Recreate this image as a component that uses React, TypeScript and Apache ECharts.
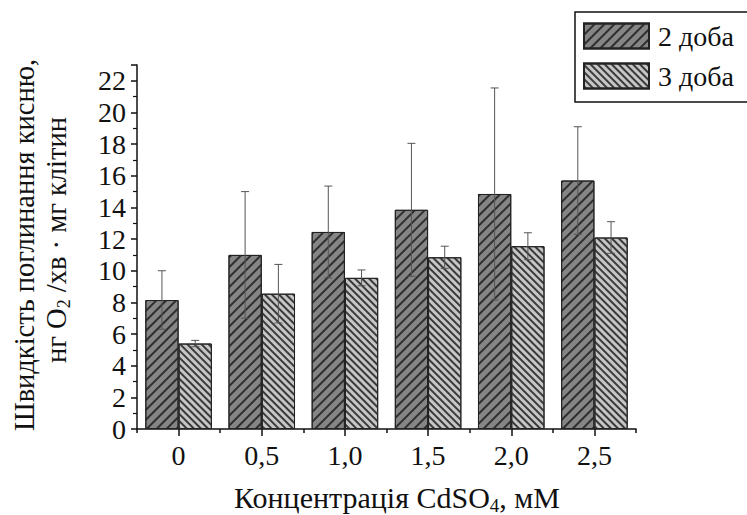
import React, { useEffect, useRef } from "react";
import * as echarts from "echarts";

const categories = ["0", "0,5", "1,0", "1,5", "2,0", "2,5"];
const day2 = [8.15, 11.0, 12.45, 13.85, 14.85, 15.7];
const day2Err = [1.85, 4.0, 2.9, 4.2, 6.7, 3.4];
const day3 = [5.4, 8.55, 9.55, 10.85, 11.55, 12.1];
const day3Err = [0.2, 1.85, 0.5, 0.7, 0.85, 1.0];
const seriesNames = ["2 доба", "3 доба"];
const yTickLabels = [0, 2, 4, 6, 8, 10, 12, 14, 16, 18, 20, 22];

const FONT = "Liberation Serif";

function errData(vals: number[], errs: number[]) {
  return vals.map((v, i) => [i, v - errs[i], v + errs[i]]);
}

function makeErrSeries(name: string, vals: number[], errs: number[], offset: number) {
  return {
    type: "custom",
    name: name + " err",
    z: 10,
    silent: true,
    data: errData(vals, errs),
    encode: { x: 0, y: [1, 2] },
    renderItem: (params: any, api: any) => {
      const i = api.value(0);
      const lo = api.coord([i, api.value(1)]);
      const hi = api.coord([i, api.value(2)]);
      const band = api.size([1, 0])[0];
      const x = lo[0] + offset * band;
      const half = 4;
      const style = { stroke: "#555", lineWidth: 1 };
      return {
        type: "group",
        children: [
          { type: "line", shape: { x1: x, y1: hi[1], x2: x, y2: lo[1] }, style },
          { type: "line", shape: { x1: x - half, y1: hi[1], x2: x + half, y2: hi[1] }, style },
          { type: "line", shape: { x1: x - half, y1: lo[1], x2: x + half, y2: lo[1] }, style },
        ],
      };
    },
  };
}

export default function App() {
  const ref = useRef<HTMLDivElement>(null);
  useEffect(() => {
    if (!ref.current) return;
    const chart = echarts.init(ref.current, null, { renderer: "svg" });
    const axisText = { fontFamily: FONT, fontSize: 28, color: "#111" };
    chart.setOption({
      animation: false,
      backgroundColor: "#fff",
      textStyle: { fontFamily: FONT },
      grid: { left: 137, right: 111, top: 65, bottom: 86 },
      legend: {
        orient: "vertical",
        left: 575,
        top: 12,
        padding: [10, 14, 12, 8],
        itemWidth: 65,
        itemHeight: 25,
        itemGap: 12,
        icon: "rect",
        borderColor: "#111",
        borderWidth: 1.5,
        data: seriesNames,
        textStyle: { fontFamily: FONT, fontSize: 28, color: "#111", padding: [0, 0, 0, 4] },
      },
      xAxis: [
        {
          type: "category",
          data: categories,
          position: "bottom",
          axisLine: { lineStyle: { color: "#111", width: 1.5 } },
          axisTick: { show: true, length: 4, inside: false, lineStyle: { color: "#111", width: 1.5 } },
          axisLabel: { ...axisText, margin: 12 },
        },
        {
          type: "category",
          data: categories,
          position: "bottom",
          axisLine: { show: false },
          axisTick: { show: true, alignWithLabel: true, length: 7, lineStyle: { color: "#111", width: 1.5 } },
          axisLabel: { show: false },
        },
      ],
      yAxis: {
        type: "value",
        min: 0,
        max: 23,
        interval: 2,
        axisLine: { show: true, lineStyle: { color: "#111", width: 1.5 } },
        axisTick: { show: true, length: 6, lineStyle: { color: "#111", width: 1.5 } },
        minorTick: { show: true, splitNumber: 2, length: 4, lineStyle: { color: "#111", width: 1.2 } },
        splitLine: { show: false },
        axisLabel: {
          ...axisText,
          margin: 11,
          showMaxLabel: false,
          formatter: (v: number) => (yTickLabels.includes(v) ? String(v) : ""),
        },
      },
      series: [
        {
          type: "bar",
          name: seriesNames[0],
          data: day2,
          barGap: "0%",
          barCategoryGap: "20%",
          itemStyle: {
            color: "#858585",
            borderColor: "#222",
            borderWidth: 1,
            decal: {
              symbol: "rect",
              symbolSize: 1,
              color: "#2e2e2e",
              dashArrayX: [1, 0],
              dashArrayY: [1.3, 4.5],
              rotation: -Math.PI / 4,
            },
          },
        },
        {
          type: "bar",
          name: seriesNames[1],
          data: day3,
          barGap: "0%",
          barCategoryGap: "20%",
          itemStyle: {
            color: "#c6c6c6",
            borderColor: "#222",
            borderWidth: 1,
            decal: {
              symbol: "rect",
              symbolSize: 1,
              color: "#3a3a3a",
              dashArrayX: [1, 0],
              dashArrayY: [1.1, 2.8],
              rotation: Math.PI / 4,
            },
          },
        },
        makeErrSeries(seriesNames[0], day2, day2Err, -0.2),
        makeErrSeries(seriesNames[1], day3, day3Err, 0.2),
      ],
      graphic: [
        {
          type: "text",
          x: 24,
          y: 245,
          rotation: Math.PI / 2,
          style: {
            text: "Швидкість поглинання кисню,",
            fontFamily: FONT,
            fontSize: 28.5,
            fill: "#111",
            align: "center",
            verticalAlign: "middle",
          },
        },
        {
          type: "text",
          x: 56,
          y: 240,
          rotation: Math.PI / 2,
          style: {
            text: "нг O{sub|2} /хв · мг клітин",
            fontFamily: FONT,
            fontSize: 28.5,
            lineHeight: 34,
            fill: "#111",
            align: "center",
            verticalAlign: "middle",
            rich: {
              sub: { fontFamily: FONT, fontSize: 18, lineHeight: 18, verticalAlign: "bottom", fill: "#111" },
            },
          },
        },
        {
          type: "text",
          x: 397,
          y: 497,
          style: {
            text: "Концентрація CdSO{sub|4}, мМ",
            fontFamily: FONT,
            fontSize: 30,
            lineHeight: 36,
            fill: "#111",
            align: "center",
            verticalAlign: "middle",
            rich: {
              sub: { fontFamily: FONT, fontSize: 19, lineHeight: 19, verticalAlign: "bottom", fill: "#111" },
            },
          },
        },
      ],
    });
    return () => chart.dispose();
  }, []);
  return <div ref={ref} style={{ position: "absolute", left: 0, top: 0, width: 747, height: 515 }} />;
}
